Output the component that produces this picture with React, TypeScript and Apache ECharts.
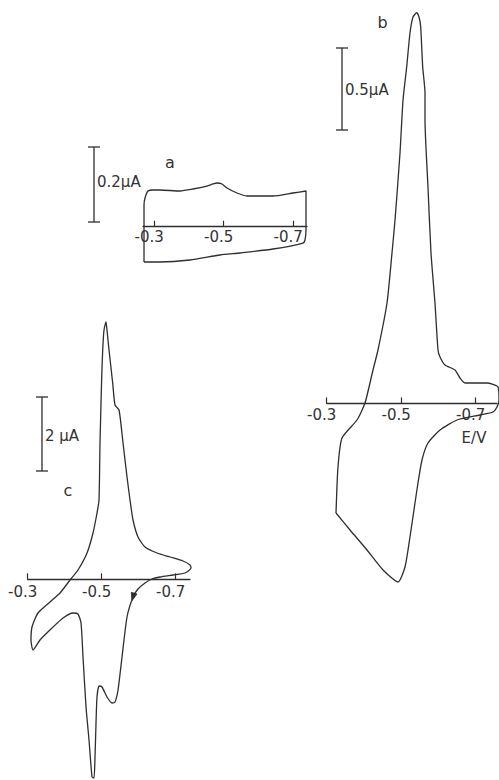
import React, { useEffect, useRef } from "react";
import * as echarts from "echarts";

// ---------- data (E / V, I / µA) ----------
const tickValues = [-0.3, -0.5, -0.7];

const curveA: number[][] = [
  [-0.2708, -0.0941], [-0.2708, 0.0579], [-0.2737, 0.0765], [-0.2823, 0.0952],
  [-0.2967, 0.0979], [-0.3168, 0.0979], [-0.3744, 0.0952], [-0.4118, 0.1005],
  [-0.4521, 0.1085], [-0.4695, 0.1139], [-0.4809, 0.1165], [-0.4953, 0.1139],
  [-0.5096, 0.1032], [-0.5384, 0.0899], [-0.5672, 0.0819], [-0.642, 0.0819],
  [-0.6996, 0.0899], [-0.737, 0.0952], [-0.737, -0.0088], [-0.7341, -0.0355],
  [-0.7283, -0.0435], [-0.642, -0.0595], [-0.547, -0.0701], [-0.4895, -0.0755],
  [-0.4032, -0.0888], [-0.3168, -0.0941], [-0.2823, -0.0941], [-0.2708, -0.0941],
];

const curveB: number[][] = [
  [-0.325, -0.6677], [-0.3303, -0.3872], [-0.3411, -0.2104], [-0.3813, -0.1006],
  [-0.4028, 0.003], [-0.4243, 0.2043], [-0.4377, 0.3262], [-0.4619, 0.6128],
  [-0.4753, 0.9177], [-0.4834, 1.1189], [-0.4968, 1.5274], [-0.5049, 1.8506],
  [-0.5148, 2.0537], [-0.5236, 2.2591], [-0.5317, 2.3567], [-0.5416, 2.3829],
  [-0.5478, 2.3567], [-0.5523, 2.2976], [-0.5577, 2.0537], [-0.5639, 1.8933],
  [-0.5639, 1.7287], [-0.5719, 1.3201], [-0.58, 0.9177], [-0.5907, 0.6128],
  [-0.5988, 0.3262], [-0.6042, 0.2835], [-0.6176, 0.2348], [-0.6444, 0.2043],
  [-0.6579, 0.1555], [-0.6713, 0.125], [-0.7303, 0.125], [-0.7599, 0.1006],
  [-0.7626, 0.0213], [-0.7572, -0.0213], [-0.7465, -0.0518], [-0.7116, -0.0701],
  [-0.6498, -0.1006], [-0.6042, -0.1616], [-0.5719, -0.2409], [-0.5558, -0.3445],
  [-0.5451, -0.4848], [-0.537, -0.6067], [-0.5236, -0.814], [-0.5102, -0.997],
  [-0.4914, -1.0884], [-0.4512, -1.0152], [-0.4082, -0.8933], [-0.3626, -0.7713],
  [-0.325, -0.6677],
];

const curveC: number[][] = [
  [-0.4143, -0.019], [-0.4359, 0.2514], [-0.4603, 0.7108], [-0.4765, 1.2514],
  [-0.4873, 1.7919], [-0.4927, 2.1432], [-0.4954, 3.6838], [-0.5, 5.4676],
  [-0.5027, 6.1973], [-0.5062, 6.7378], [-0.5116, 6.9541], [-0.5143, 6.7378],
  [-0.5197, 6.1973], [-0.5297, 5.3054], [-0.5359, 4.7108], [-0.5468, 4.5757],
  [-0.5576, 3.6838], [-0.5684, 2.7649], [-0.5765, 2.1432], [-0.5846, 1.6027],
  [-0.5981, 1.1432], [-0.617, 0.873], [-0.6495, 0.7108], [-0.6846, 0.6027],
  [-0.7197, 0.4946], [-0.7386, 0.3865], [-0.7414, 0.3054], [-0.7251, 0.1703],
  [-0.6927, 0.1162], [-0.6576, 0.0622], [-0.6359, 0.0081], [-0.617, -0.1],
  [-0.5981, -0.2622], [-0.5846, -0.4784], [-0.5684, -1.0189], [-0.5549, -2.1],
  [-0.5441, -2.9919], [-0.5359, -3.3162], [-0.5278, -3.3432], [-0.5143, -3.1811],
  [-0.5008, -2.9108], [-0.4927, -2.8838], [-0.4873, -3.1811], [-0.4846, -3.8838],
  [-0.4819, -4.8027], [-0.4792, -5.3703], [-0.4738, -5.3432], [-0.4657, -4.3432],
  [-0.4576, -3.4514], [-0.4495, -2.1], [-0.4441, -1.1811], [-0.4359, -0.9378],
  [-0.4224, -0.9108], [-0.3954, -1.0459], [-0.3657, -1.3162], [-0.3332, -1.6405],
  [-0.3143, -1.9108], [-0.3089, -1.6405], [-0.3116, -1.2892], [-0.3278, -0.9108],
  [-0.3603, -0.6135], [-0.3873, -0.3703], [-0.4143, -0.019],
];

// scale bars: [E position, I low, I high]
const scaleBarA = [-0.1269, 0.0125, 0.2125];
const scaleBarB = [-0.3411, 1.6677, 2.1677];
const scaleBarC = [-0.3386, 2.927, 4.927];

// scan-direction arrow on curve c: [E at arrow, I at arrow, E one step ahead, I one step ahead]
const arrowC = [-0.5846, -0.4784, -0.5684, -1.0189];

const panelLabels = ["a", "b", "c"];
const scaleLabels = ["0.2μA", "0.5μA", "2 μA"];
const axisTitle = "E/V";

// ---------- layout ----------
const INK = "#2e2e2e";
const FONT = "DejaVu Sans";

// grid spans from `top` down to the zero-current axis line at `axisY`
const PANELS = [
  { left: 143, width: 164, xLeft: -0.2679, xRight: -0.7399, axisY: 226.7, ppu: 375, top: 120, margin: 3 },
  { left: 326.7, width: 170.3, xLeft: -0.3, xRight: -0.7572, axisY: 403.5, ppu: 164, top: 0, margin: 4 },
  { left: 27.7, width: 162.3, xLeft: -0.3, xRight: -0.7386, axisY: 579.3, ppu: 37, top: 300, margin: 5 },
];

const TEXTS = [
  { text: panelLabels[0], x: 170, y: 162, size: 16, align: "center" },
  { text: scaleLabels[0], x: 97, y: 182, size: 15, align: "left" },
  { text: panelLabels[1], x: 382.5, y: 22.5, size: 16, align: "center" },
  { text: scaleLabels[1], x: 345, y: 90, size: 15, align: "left" },
  { text: panelLabels[2], x: 68, y: 490, size: 16, align: "center" },
  { text: scaleLabels[2], x: 45, y: 436, size: 15, align: "left" },
  { text: axisTitle, x: 474, y: 438, size: 15, align: "center" },
];

const curves = [curveA, curveB, curveC];
const bars = [scaleBarA, scaleBarB, scaleBarC];

export default function App() {
  const ref = useRef<HTMLDivElement>(null);

  useEffect(() => {
    if (!ref.current) return;
    const chart = echarts.init(ref.current, undefined, { renderer: "svg" });

    const grid = PANELS.map((p) => ({
      left: p.left,
      top: p.top,
      width: p.width,
      height: p.axisY - p.top,
      containLabel: false,
      outerBoundsMode: "none",
    }));

    const xAxis = PANELS.map((p, i) => ({
      type: "value",
      gridIndex: i,
      position: "bottom",
      min: p.xRight,
      max: p.xLeft,
      inverse: true,
      axisLine: { show: true, onZero: false, lineStyle: { color: INK, width: 1.3 } },
      axisTick: {
        show: true,
        inside: true,
        length: 6,
        customValues: tickValues,
        lineStyle: { color: INK, width: 1.2 },
      },
      axisLabel: {
        show: true,
        customValues: tickValues,
        formatter: (v: number) => v.toFixed(1),
        color: "#333",
        fontSize: 15,
        fontFamily: FONT,
        margin: p.margin,
        padding: [0, 10, 0, 0],
      },
      splitLine: { show: false },
    }));

    const yAxis = PANELS.map((p, i) => ({
      type: "value",
      gridIndex: i,
      min: 0,
      max: (p.axisY - p.top) / p.ppu,
      show: false,
      splitLine: { show: false },
    }));

    const lineSeries = curves.map((c, i) => ({
      type: "line",
      xAxisIndex: i,
      yAxisIndex: i,
      data: c,
      symbol: "none",
      smooth: 0.2,
      clip: false,
      silent: true,
      lineStyle: { color: INK, width: 1.3 },
    }));

    const barSeries = bars.map((b, i) => ({
      type: "custom",
      xAxisIndex: i,
      yAxisIndex: i,
      clip: false,
      silent: true,
      data: [b],
      encode: { x: 0, y: [1, 2] },
      renderItem: (_params: any, api: any) => {
        const lo = api.coord([api.value(0), api.value(1)]);
        const hi = api.coord([api.value(0), api.value(2)]);
        const w = 6;
        const style = { stroke: INK, lineWidth: 1.3 };
        return {
          type: "group",
          children: [
            { type: "line", shape: { x1: lo[0], y1: lo[1], x2: hi[0], y2: hi[1] }, style },
            { type: "line", shape: { x1: lo[0] - w, y1: lo[1], x2: lo[0] + w, y2: lo[1] }, style },
            { type: "line", shape: { x1: hi[0] - w, y1: hi[1], x2: hi[0] + w, y2: hi[1] }, style },
          ],
        };
      },
    }));

    const arrowSeries = {
      type: "custom",
      xAxisIndex: 2,
      yAxisIndex: 2,
      clip: false,
      silent: true,
      data: [arrowC],
      encode: { x: [0, 2], y: [1, 3] },
      renderItem: (_params: any, api: any) => {
        const p = api.coord([api.value(0), api.value(1)]);
        const q = api.coord([api.value(2), api.value(3)]);
        const dx = q[0] - p[0];
        const dy = q[1] - p[1];
        const len = Math.hypot(dx, dy) || 1;
        const ux = dx / len;
        const uy = dy / len;
        const tip = [p[0] + ux * 4, p[1] + uy * 4];
        const b1 = [p[0] - ux * 4 - uy * 3, p[1] - uy * 4 + ux * 3];
        const b2 = [p[0] - ux * 4 + uy * 3, p[1] - uy * 4 - ux * 3];
        return {
          type: "polygon",
          shape: { points: [tip, b1, b2] },
          style: { fill: INK, stroke: INK, lineWidth: 0.8 },
        };
      },
    };

    chart.setOption({
      animation: false,
      backgroundColor: "#ffffff",
      grid,
      xAxis,
      yAxis,
      series: [...lineSeries, ...barSeries, arrowSeries],
      graphic: TEXTS.map((t) => ({
        type: "text",
        x: t.x,
        y: t.y,
        silent: true,
        style: {
          text: t.text,
          fill: "#333",
          fontSize: t.size,
          fontFamily: FONT,
          align: t.align,
          verticalAlign: "middle",
        },
      })),
    });

    return () => chart.dispose();
  }, []);

  return (
    <div
      ref={ref}
      style={{ position: "fixed", left: 0, top: 0, width: 499, height: 780, background: "#fff" }}
    />
  );
}
